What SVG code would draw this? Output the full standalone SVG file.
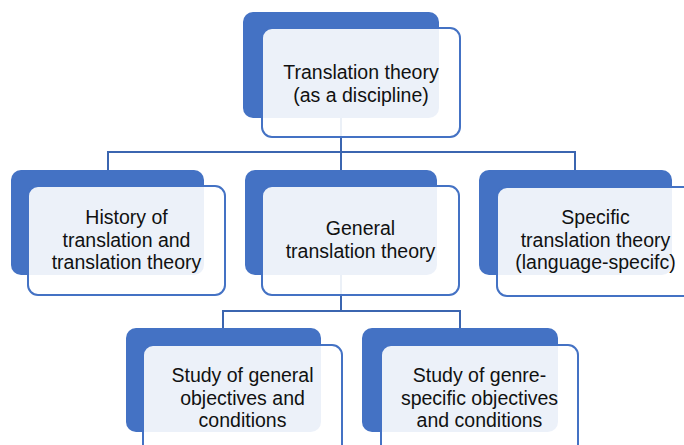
<svg xmlns="http://www.w3.org/2000/svg" width="684" height="445" viewBox="0 0 684 445">
<style>
.back{fill:#4472C4;}
.front{fill:#FFFFFF;fill-opacity:0.9;stroke:#4472C4;stroke-width:2;}
.conn{fill:none;stroke:#3B65B0;stroke-width:2;}
text{font-family:"Liberation Sans",Arial,sans-serif;font-size:19.5px;fill:#111;text-anchor:middle;}
</style>
<rect width="684" height="445" fill="#FFFFFF"/>
<g id="connectors">
<path class="conn" d="M341 118 V152 M108 170 V152 H575 V170 M341 152 V170"/>
<path class="conn" d="M341 275 V311 M223 328 V311 H460 V328"/>
</g>
<g id="node-root">
<rect class="back" x="243" y="12" width="196" height="106" rx="10"/>
<rect class="front" x="262" y="28" width="198" height="109" rx="10"/>
<text x="361" y="79">Translation theory</text>
<text x="361" y="101.5">(as a discipline)</text>
</g>
<g id="node-history">
<rect class="back" x="11" y="170" width="193" height="105" rx="10"/>
<rect class="front" x="28" y="186" width="197" height="109" rx="10"/>
<text x="126.5" y="224">History of</text>
<text x="126.5" y="246.5">translation and</text>
<text x="126.5" y="269">translation theory</text>
</g>
<g id="node-general">
<rect class="back" x="245" y="170" width="192" height="105" rx="10"/>
<rect class="front" x="262" y="186" width="197" height="109" rx="10"/>
<text x="360.5" y="235">General</text>
<text x="360.5" y="258">translation theory</text>
</g>
<g id="node-specific">
<rect class="back" x="479" y="170" width="193" height="105" rx="10"/>
<rect class="front" x="497" y="187" width="197" height="109" rx="10"/>
<text x="595.5" y="224">Specific</text>
<text x="595.5" y="246.5">translation theory</text>
<text x="595.5" y="269">(language-specifc)</text>
</g>
<g id="node-general-objectives">
<rect class="back" x="126" y="328" width="195" height="104" rx="10"/>
<rect class="front" x="143" y="345" width="199" height="109" rx="10"/>
<text x="242.5" y="382">Study of general</text>
<text x="242.5" y="404.5">objectives and</text>
<text x="242.5" y="427">conditions</text>
</g>
<g id="node-genre-objectives">
<rect class="back" x="362" y="328" width="196" height="104" rx="10"/>
<rect class="front" x="381" y="345" width="197" height="109" rx="10"/>
<text x="479.5" y="382">Study of genre-</text>
<text x="479.5" y="404.5">specific objectives</text>
<text x="479.5" y="427">and conditions</text>
</g>
</svg>
